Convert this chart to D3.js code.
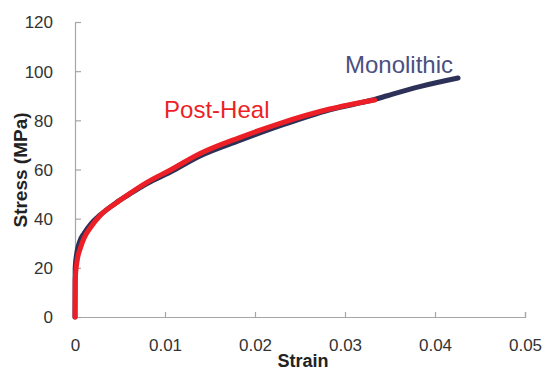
<!DOCTYPE html>
<html>
<head>
<meta charset="utf-8">
<script src="https://cdn.jsdelivr.net/npm/d3@7"></script>
<style>
  body { margin: 0; background: #fff; }
  svg text { font-family: "Liberation Sans", Arial, sans-serif; }
</style>
</head>
<body>
<script>
// data
var xTicks = [0, 0.01, 0.02, 0.03, 0.04, 0.05];
var yTicks = [0, 20, 40, 60, 80, 100, 120];

var monoStrain = [0, 0.00002, 0.0002, 0.0005, 0.001, 0.0018, 0.0028, 0.0045, 0.0059, 0.008, 0.0106, 0.0139, 0.0183, 0.0228, 0.0283, 0.0333, 0.0347, 0.0383, 0.04256];
var monoStress = [0, 20, 26, 30.5, 34, 38, 41.5, 46.3, 49.6, 54.3, 59, 65.5, 71.8, 77.8, 84.3, 88.5, 90, 93.7, 97.2];

var healStrain = [0, 0.00002, 0.0002, 0.0006, 0.001, 0.0018, 0.0028, 0.0045, 0.0059, 0.008, 0.0106, 0.0139, 0.0183, 0.0228, 0.0283, 0.0333];
var healStress = [0, 15, 22, 28, 32, 36.8, 41.3, 46.2, 49.8, 54.8, 59.8, 66.5, 73, 78.8, 84.6, 88.3];

var width = 544, height = 373;
var margin = {top: 22, right: 19, bottom: 56, left: 75};

var svg = d3.select("body").append("svg")
    .attr("width", width)
    .attr("height", height);

var x = d3.scaleLinear().domain([0, 0.05]).range([margin.left, width - margin.right]);
var y = d3.scaleLinear().domain([0, 120]).range([height - margin.bottom, margin.top]);

// x axis
var xAxis = svg.append("g")
    .attr("transform", "translate(0," + y(0) + ")")
    .call(d3.axisTop(x).tickValues(xTicks).tickSize(5).tickFormat(d3.format("")));
xAxis.selectAll("text")
    .attr("y", 34)
    .attr("dy", 0)
    .style("font-size", "17px")
    .attr("fill", "#333");

// y axis
var yAxis = svg.append("g")
    .attr("transform", "translate(" + x(0) + ",0)")
    .call(d3.axisRight(y).tickValues(yTicks).tickSize(6));
yAxis.selectAll("text")
    .attr("x", -22)
    .attr("dy", "0.35em")
    .attr("text-anchor", "end")
    .style("font-size", "17px")
    .attr("fill", "#333");

svg.selectAll(".domain, .tick line").attr("stroke", "#a6a6a6").attr("stroke-width", 1.2);

// curves
var line = d3.line()
    .x(function(d) { return x(d[0]); })
    .y(function(d) { return y(d[1]); })
    .curve(d3.curveMonotoneX);

svg.append("path")
    .datum(d3.zip(monoStrain, monoStress))
    .attr("d", line)
    .attr("fill", "none")
    .attr("stroke", "#2d3157")
    .attr("stroke-width", 5)
    .attr("stroke-linecap", "round");

svg.append("path")
    .datum(d3.zip(healStrain, healStress))
    .attr("d", line)
    .attr("fill", "none")
    .attr("stroke", "#ec1f27")
    .attr("stroke-width", 5)
    .attr("stroke-linecap", "round");

// series labels
svg.append("text")
    .attr("x", x(0.03))
    .attr("y", y(99.3))
    .attr("fill", "#4b5080")
    .style("font-size", "24px")
    .text("Monolithic");

svg.append("text")
    .attr("x", x(0.0099))
    .attr("y", y(81))
    .attr("fill", "#ec1f27")
    .style("font-size", "24px")
    .text("Post-Heal");

// axis titles
svg.append("text")
    .attr("x", 303)
    .attr("y", 367)
    .attr("text-anchor", "middle")
    .style("font-size", "18px")
    .style("font-weight", "bold")
    .attr("fill", "#222")
    .text("Strain");

svg.append("text")
    .attr("transform", "translate(27,170) rotate(-90)")
    .attr("text-anchor", "middle")
    .style("font-size", "19px")
    .style("font-weight", "bold")
    .attr("fill", "#222")
    .text("Stress (MPa)");
</script>
</body>
</html>
